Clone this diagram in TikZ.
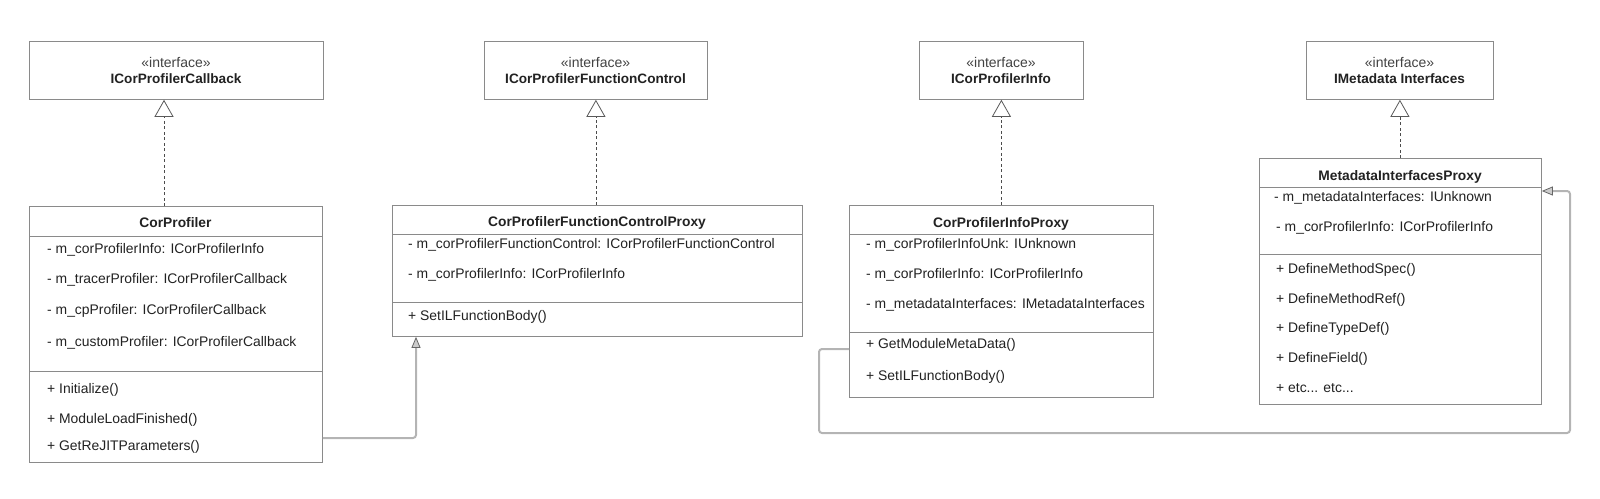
\documentclass[tikz,border=0pt]{standalone}
\usepackage{fontspec}
\setmainfont{Liberation Sans}
\usetikzlibrary{arrows.meta}
\definecolor{txt}{HTML}{222222}
\definecolor{edge}{HTML}{8A8A8A}
\definecolor{conn}{HTML}{B4B4B4}
\tikzset{
  umlbox/.style={draw=edge, line width=0.8pt, fill=white, inner sep=0pt, anchor=north west},
  sepline/.style={draw=edge, line width=0.8pt},
  lbl/.style={font=\fontsize{13.9}{16}\selectfont, text=txt, anchor=base west, inner sep=0pt},
  hdr/.style={font=\fontsize{13.8}{16}\selectfont\bfseries, text=txt, anchor=base, inner sep=0pt},
  ihdr/.style={font=\fontsize{13.6}{16}\selectfont\bfseries, text=txt, anchor=base, inner sep=0pt},
  stereo/.style={font=\fontsize{14}{16}\selectfont, text=txt!85, anchor=base, inner sep=0pt},
  realize/.style={draw=black!70, line width=0.7pt, dash pattern=on 3pt off 2.5pt,
    -{Triangle[open, length=17pt, width=19pt, line width=0.8pt, color=black!65, fill=white]}},
  assoc/.style={draw=conn, line width=2pt, rounded corners=3pt,
    -{Triangle[length=11pt, width=9pt, line width=0.8pt, color=black!60, fill=black!20]}}
}
\begin{document}
\begin{tikzpicture}[x=1pt, y=-1pt]
\useasboundingbox (0,0) rectangle (1600,498);

% ---------- interfaces ----------
\node[umlbox, minimum width=294pt, minimum height=58pt] (icb) at (29,41) {};
\node[stereo] (icbs) at (176,67) {«interface»};
\node[ihdr] (icbn) at (176,83) {ICorProfilerCallback};

\node[umlbox, minimum width=223pt, minimum height=58pt] (ifc) at (484,41) {};
\node[stereo] (ifcs) at (595.5,67) {«interface»};
\node[ihdr] (ifcn) at (595.5,83) {ICorProfilerFunctionControl};

\node[umlbox, minimum width=164pt, minimum height=58pt] (ii) at (919,41) {};
\node[stereo] (iis) at (1001,67) {«interface»};
\node[ihdr] (iin) at (1001,83) {ICorProfilerInfo};

\node[umlbox, minimum width=187pt, minimum height=58pt] (imd) at (1306,41) {};
\node[stereo] (imds) at (1399.5,67) {«interface»};
\node[ihdr] (imdn) at (1399.5,83) {IMetadata Interfaces};

% ---------- CorProfiler ----------
\node[umlbox, minimum width=293pt, minimum height=256pt] (cp) at (29,206) {};
\draw[sepline] (cp.west |- 0,236) -- (cp.east |- 0,236);
\draw[sepline] (cp.west |- 0,371) -- (cp.east |- 0,371);
\node[hdr] (cph) at (175.5,227) {CorProfiler};
\node[lbl] (cpa1) at (47,253) {- m\_corProfilerInfo: ICorProfilerInfo};
\node[lbl] (cpa2) at (47,283) {- m\_tracerProfiler: ICorProfilerCallback};
\node[lbl] (cpa3) at (47,314) {- m\_cpProfiler: ICorProfilerCallback};
\node[lbl] (cpa4) at (47,346) {- m\_customProfiler: ICorProfilerCallback};
\node[lbl] (cpm1) at (47,393) {+ Initialize()};
\node[lbl] (cpm2) at (47,423) {+ ModuleLoadFinished()};
\node[lbl] (cpm3) at (47,450) {+ GetReJITParameters()};

% ---------- CorProfilerFunctionControlProxy ----------
\node[umlbox, minimum width=410pt, minimum height=131pt] (fcp) at (392,205) {};
\draw[sepline] (fcp.west |- 0,234) -- (fcp.east |- 0,234);
\draw[sepline] (fcp.west |- 0,302) -- (fcp.east |- 0,302);
\node[hdr] (fcph) at (597,226) {CorProfilerFunctionControlProxy};
\node[lbl] (fcpa1) at (408,248) {- m\_corProfilerFunctionControl: ICorProfilerFunctionControl};
\node[lbl] (fcpa2) at (408,278) {- m\_corProfilerInfo: ICorProfilerInfo};
\node[lbl] (fcpm1) at (408,320) {+ SetILFunctionBody()};

% ---------- CorProfilerInfoProxy ----------
\node[umlbox, minimum width=304pt, minimum height=192pt] (ip) at (849,205) {};
\draw[sepline] (ip.west |- 0,234) -- (ip.east |- 0,234);
\draw[sepline] (ip.west |- 0,332) -- (ip.east |- 0,332);
\node[hdr] (iph) at (1001,227) {CorProfilerInfoProxy};
\node[lbl] (ipa1) at (866,248) {- m\_corProfilerInfoUnk: IUnknown};
\node[lbl] (ipa2) at (866,278) {- m\_corProfilerInfo: ICorProfilerInfo};
\node[lbl] (ipa3) at (866,308) {- m\_metadataInterfaces: IMetadataInterfaces};
\node[lbl] (ipm1) at (866,348) {+ GetModuleMetaData()};
\node[lbl] (ipm2) at (866,380) {+ SetILFunctionBody()};

% ---------- MetadataInterfacesProxy ----------
\node[umlbox, minimum width=282pt, minimum height=246pt] (mip) at (1259,158) {};
\draw[sepline] (mip.west |- 0,187) -- (mip.east |- 0,187);
\draw[sepline] (mip.west |- 0,254) -- (mip.east |- 0,254);
\node[hdr] (miph) at (1400,180) {MetadataInterfacesProxy};
\node[lbl] (mipa1) at (1274,201) {- m\_metadataInterfaces: IUnknown};
\node[lbl] (mipa2) at (1276,231) {- m\_corProfilerInfo: ICorProfilerInfo};
\node[lbl] (mipm1) at (1276,273) {+ DefineMethodSpec()};
\node[lbl] (mipm2) at (1276,303) {+ DefineMethodRef()};
\node[lbl] (mipm3) at (1276,332) {+ DefineTypeDef()};
\node[lbl] (mipm4) at (1276,362) {+ DefineField()};
\node[lbl] (mipm5) at (1276,392) {+ etc... etc...};

% ---------- realizations ----------
\draw[realize] (cp.north -| 164,0) -- (icb.south -| 164,0);
\draw[realize] (fcp.north -| ifc.south) -- (ifc.south);
\draw[realize] (ip.north -| ii.south) -- (ii.south);
\draw[realize] (mip.north -| imd.south) -- (imd.south);

% ---------- associations ----------
\draw[assoc] (cp.east |- 0,438) -- (416,438) -- (fcp.south -| 416,0);
\draw[assoc] (ip.west |- 0,349) -- (819,349) -- (819,433) -- (1570,433) -- (1570,191) -- (mip.east |- 0,191);
\end{tikzpicture}
\end{document}
